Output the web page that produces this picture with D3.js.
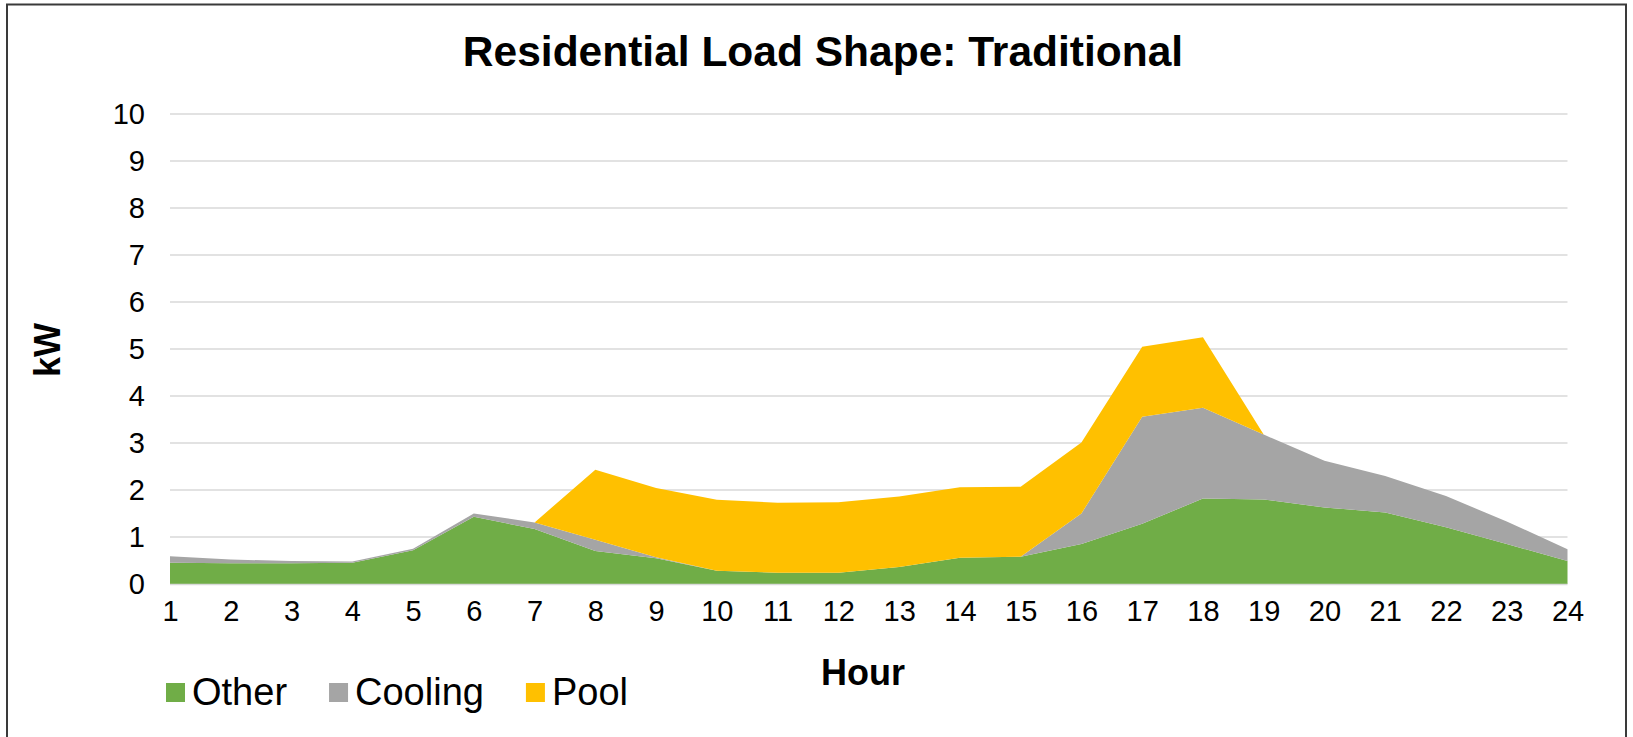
<!DOCTYPE html>
<html>
<head>
<meta charset="utf-8">
<script src="https://cdn.jsdelivr.net/npm/d3@7"></script>
<style>
  body { margin: 0; background: #fff; }
  svg { display: block; font-family: "Liberation Sans", Arial, sans-serif; }
</style>
</head>
<body>
<svg id="chart" width="1633" height="737"></svg>
<script>
var hours = d3.range(1, 25);
var seriesNames = ["Other", "Cooling", "Pool"];
var other = [0.45, 0.44, 0.44, 0.45, 0.72, 1.43, 1.17, 0.70, 0.55, 0.28, 0.24, 0.24,
             0.36, 0.56, 0.58, 0.85, 1.28, 1.82, 1.80, 1.63, 1.52, 1.21, 0.85, 0.49];
var cooling = [0.14, 0.08, 0.05, 0.03, 0.03, 0.07, 0.14, 0.24, 0.02, 0, 0, 0,
               0, 0, 0, 0.65, 2.28, 1.93, 1.38, 0.99, 0.78, 0.66, 0.48, 0.25];
var pool = [0, 0, 0, 0, 0, 0, 0, 1.49, 1.47, 1.51, 1.49, 1.50,
            1.50, 1.50, 1.49, 1.51, 1.49, 1.50, 0, 0, 0, 0, 0, 0];
var yTicks = d3.range(0, 11);
var colors = ["#70ad47", "#a5a5a5", "#ffc000"];

var svg = d3.select("#chart");

// rows for the stack
var rows = hours.map(function(h, i) {
  return { hour: h, Other: other[i], Cooling: cooling[i], Pool: pool[i] };
});
var stacked = d3.stack().keys(seriesNames)(rows);

var x = d3.scalePoint().domain(hours).range([170, 1567.5]);
var y = d3.scaleLinear().domain([0, 10]).range([584, 114]);

// outer border
svg.append("rect")
  .attr("x", 7)
  .attr("y", 4.5)
  .attr("width", 1619)
  .attr("height", 760)
  .attr("fill", "none")
  .attr("stroke", "#3a3a3a")
  .attr("stroke-width", 2);

// title
svg.append("text")
  .attr("x", 823)
  .attr("y", 66)
  .attr("text-anchor", "middle")
  .attr("font-size", "42.5px")
  .attr("font-weight", "bold")
  .text("Residential Load Shape: Traditional");

// gridlines
var grid = svg.append("g").attr("class", "grid");
grid.selectAll("line")
  .data(yTicks.filter(function(d) { return d > 0; }))
  .enter()
  .append("line")
  .attr("x1", x(1))
  .attr("x2", x(24))
  .attr("y1", function(d) { return y(d); })
  .attr("y2", function(d) { return y(d); })
  .attr("stroke", "#d9d9d9")
  .attr("stroke-width", 1.5);

// stacked areas
var area = d3.area()
  .x(function(d) { return x(d.data.hour); })
  .y0(function(d) { return y(d[0]); })
  .y1(function(d) { return y(d[1]); });

svg.append("g")
  .attr("class", "areas")
  .selectAll("path")
  .data(stacked)
  .enter()
  .append("path")
  .attr("d", area)
  .attr("fill", function(d, i) { return colors[i]; });

// category axis line
svg.append("line")
  .attr("x1", x(1))
  .attr("x2", x(24))
  .attr("y1", y(0) + 0.5)
  .attr("y2", y(0) + 0.5)
  .attr("stroke", "#d9d9d9")
  .attr("stroke-width", 1.5);

// y axis
var yAxis = svg.append("g")
  .attr("transform", "translate(145,0)")
  .call(d3.axisLeft(y).tickValues(yTicks).tickSize(0).tickPadding(0));
yAxis.select(".domain").remove();
yAxis.selectAll("text")
  .attr("font-size", "29px")
  .attr("font-family", "Liberation Sans, Arial, sans-serif")
  .attr("fill", "#000");

// x axis
var xAxis = svg.append("g")
  .attr("transform", "translate(0,600)")
  .call(d3.axisBottom(x).tickSize(0).tickPadding(0));
xAxis.select(".domain").remove();
xAxis.selectAll("text")
  .attr("font-size", "29px")
  .attr("font-family", "Liberation Sans, Arial, sans-serif")
  .attr("fill", "#000");

// axis titles
svg.append("text")
  .attr("transform", "translate(60,350) rotate(-90)")
  .attr("text-anchor", "middle")
  .attr("font-size", "36px")
  .attr("font-weight", "bold")
  .text("kW");

svg.append("text")
  .attr("x", 863)
  .attr("y", 685)
  .attr("text-anchor", "middle")
  .attr("font-size", "36px")
  .attr("font-weight", "bold")
  .text("Hour");

// legend
var legend = svg.append("g").attr("class", "legend");
var lx = 166;
seriesNames.forEach(function(name, i) {
  var g = legend.append("g").attr("transform", "translate(" + lx + ",0)");
  g.append("rect")
    .attr("x", 0)
    .attr("y", 683)
    .attr("width", 19)
    .attr("height", 19)
    .attr("fill", colors[i]);
  var t = g.append("text")
    .attr("x", 26)
    .attr("y", 705)
    .attr("font-size", "38px")
    .text(name);
  lx += 26 + t.node().getComputedTextLength() + 42;
});
</script>
</body>
</html>
